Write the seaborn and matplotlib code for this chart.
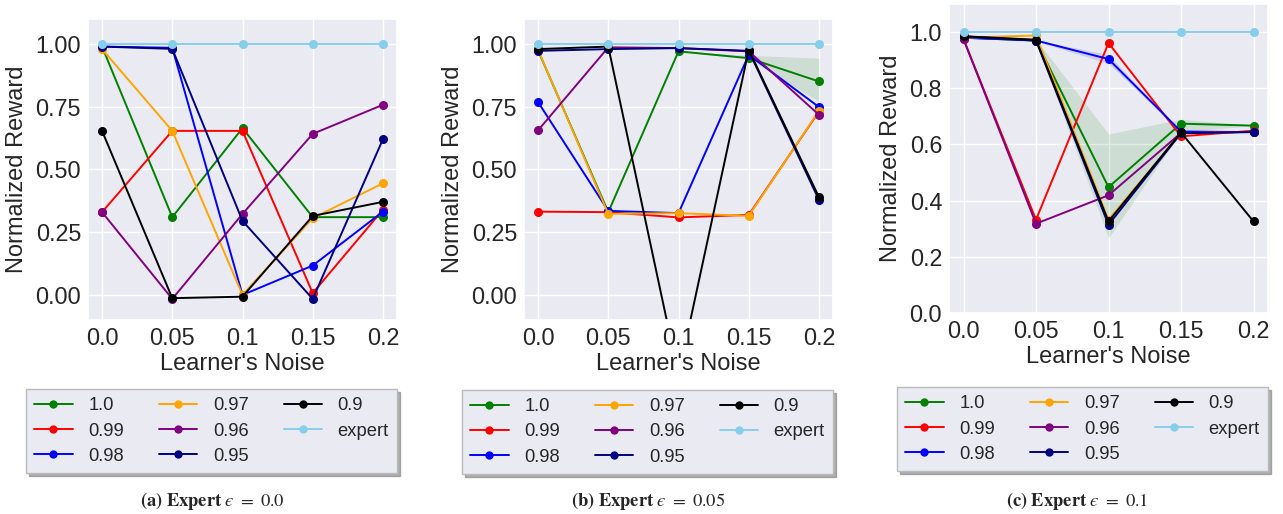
import numpy as np
import pandas as pd
import matplotlib
matplotlib.use("Agg")
import matplotlib.pyplot as plt
import seaborn as sns

# ---------------- data ----------------
noise = [0.0, 0.05, 0.1, 0.15, 0.2]
noise_labels = ["0.0", "0.05", "0.1", "0.15", "0.2"]
series = ["1.0", "0.99", "0.98", "0.97", "0.96", "0.95", "0.9", "expert"]
colors = ["green", "red", "blue", "orange", "purple", "navy", "black", "skyblue"]

# panel (a) Expert eps = 0.0
a_10 = [0.99, 0.31, 0.665, 0.31, 0.31]
a_099 = [0.33, 0.654, 0.654, 0.007, 0.34]
a_098 = [0.99, 0.985, 0.0, 0.117, 0.332]
a_097 = [0.98, 0.654, 0.0, 0.306, 0.445]
a_096 = [0.33, -0.016, 0.323, 0.642, 0.758]
a_095 = [0.99, 0.981, 0.295, -0.016, 0.621]
a_09 = [0.654, -0.013, -0.007, 0.315, 0.371]
a_exp = [1.0, 1.0, 1.0, 1.0, 1.0]

# panel (b) Expert eps = 0.05
b_10 = [0.975, 0.33, 0.971, 0.944, 0.851]
b_099 = [0.332, 0.33, 0.309, 0.319, 0.731]
b_098 = [0.769, 0.335, 0.326, 0.957, 0.749]
b_097 = [0.977, 0.323, 0.326, 0.315, 0.734]
b_096 = [0.656, 0.987, 0.984, 0.971, 0.718]
b_095 = [0.973, 0.98, 0.984, 0.973, 0.379]
b_09 = [0.98, 0.99, -0.32, 0.977, 0.39]
b_exp = [1.0, 1.0, 1.0, 1.0, 1.0]
b_10_lo = [0.975, 0.33, 0.971, 0.94, 0.771]
b_10_hi = [0.975, 0.33, 0.971, 0.955, 0.944]

# panel (c) Expert eps = 0.1
c_10 = [0.98, 0.97, 0.448, 0.674, 0.667]
c_099 = [0.975, 0.332, 0.961, 0.629, 0.649]
c_098 = [0.98, 0.97, 0.904, 0.646, 0.644]
c_097 = [0.98, 0.988, 0.332, 0.64, 0.645]
c_096 = [0.975, 0.318, 0.419, 0.641, 0.645]
c_095 = [0.985, 0.97, 0.314, 0.64, 0.644]
c_09 = [0.985, 0.973, 0.326, 0.643, 0.326]
c_exp = [1.0, 1.0, 1.0, 1.0, 1.0]
c_10_lo = [0.98, 0.965, 0.267, 0.645, 0.667]
c_10_hi = [0.98, 0.975, 0.637, 0.69, 0.667]
c_098_lo = [0.98, 0.968, 0.888, 0.646, 0.644]
c_098_hi = [0.98, 0.972, 0.92, 0.646, 0.644]

panels = [
    dict(vals=[a_10, a_099, a_098, a_097, a_096, a_095, a_09, a_exp], bands=[],
         ylim=(-0.1, 1.1), yticks=[0.0, 0.25, 0.5, 0.75, 1.0], yfmt="{:.2f}",
         caption="$\\mathbf{(a)\\ Expert}\\ \u03f5\\ =\\ 0.0$"),
    dict(vals=[b_10, b_099, b_098, b_097, b_096, b_095, b_09, b_exp],
         bands=[("green", b_10_lo, b_10_hi)],
         ylim=(-0.1, 1.1), yticks=[0.0, 0.25, 0.5, 0.75, 1.0], yfmt="{:.2f}",
         caption="$\\mathbf{(b)\\ Expert}\\ \u03f5\\ =\\ 0.05$"),
    dict(vals=[c_10, c_099, c_098, c_097, c_096, c_095, c_09, c_exp],
         bands=[("green", c_10_lo, c_10_hi), ("blue", c_098_lo, c_098_hi)],
         ylim=(0.0, 1.1), yticks=[0.0, 0.2, 0.4, 0.6, 0.8, 1.0], yfmt="{:.1f}",
         caption="$\\mathbf{(c)\\ Expert}\\ \u03f5\\ =\\ 0.1$"),
]

# ---------------- style ----------------
sns.set_theme(style="darkgrid")
plt.rcParams["font.family"] = ["Liberation Sans", "DejaVu Sans"]
plt.rcParams["mathtext.fontset"] = "stix"

W, H = 1283, 514
fig = plt.figure(figsize=(W / 100, H / 100), dpi=100)

# axes boxes in pixels (left, top, right, bottom)
boxes = [(88, 19, 397, 320), (524, 19, 833, 320), (949, 4, 1268, 313)]
legend_top = [389, 390, 387]
caption_x = [212, 648, 1077]
caption_y = 501

palette = dict(zip(series, colors))

for p, box, ltop, cx in zip(panels, boxes, legend_top, caption_x):
    l, t, r, b = box
    ax = fig.add_axes([l / W, 1 - b / H, (r - l) / W, (b - t) / H])
    rows = []
    for name, vals in zip(series, p["vals"]):
        for x, v in zip(noise, vals):
            rows.append({"noise": x, "reward": v, "series": name})
    df = pd.DataFrame(rows)
    for col, lo, hi in p["bands"]:
        ax.fill_between(noise, lo, hi, color=col, alpha=0.12, linewidth=0, zorder=1)
    sns.lineplot(data=df, x="noise", y="reward", hue="series", hue_order=series,
                 palette=palette, marker="o", markersize=6.5, markeredgewidth=0,
                 linewidth=1.4, errorbar=None, ax=ax)
    ax.set_xlim(-0.01, 0.21)
    ax.set_ylim(*p["ylim"])
    ax.set_xticks(noise)
    ax.set_xticklabels(noise_labels)
    ax.set_yticks(p["yticks"])
    ax.set_yticklabels([p["yfmt"].format(v) for v in p["yticks"]])
    ax.tick_params(axis="both", labelsize=16.8, length=0, pad=5)
    ax.set_xlabel("Learner's Noise", fontsize=17, labelpad=2)
    ax.set_ylabel("Normalized Reward", fontsize=17, labelpad=5)

    # legend below axes, right aligned
    handles, labels = ax.get_legend_handles_labels()
    old = ax.get_legend()
    if old is not None:
        old.remove()
    anchor_y = 1 - (ltop - t) / (b - t)
    leg = ax.legend(handles, labels, loc="upper right", bbox_to_anchor=(1.0, anchor_y),
                    borderaxespad=0.0, ncol=3, frameon=True,
                    shadow={"color": "#8C8C8C", "alpha": 0.7},
                    fancybox=False, fontsize=13.2, handlelength=2.1,
                    handletextpad=0.85, columnspacing=1.9, labelspacing=0.45,
                    borderpad=0.45, facecolor="#EAEAF2", edgecolor="#BBBBBB",
                    framealpha=1.0)
    for h in leg.legend_handles:
        h.set_markersize(6)
        h.set_linewidth(1.4)

    fig.text(cx / W, 1 - caption_y / H, p["caption"], ha="center", va="center",
             fontsize=13.3)

fig.savefig("out.png", dpi=100)
